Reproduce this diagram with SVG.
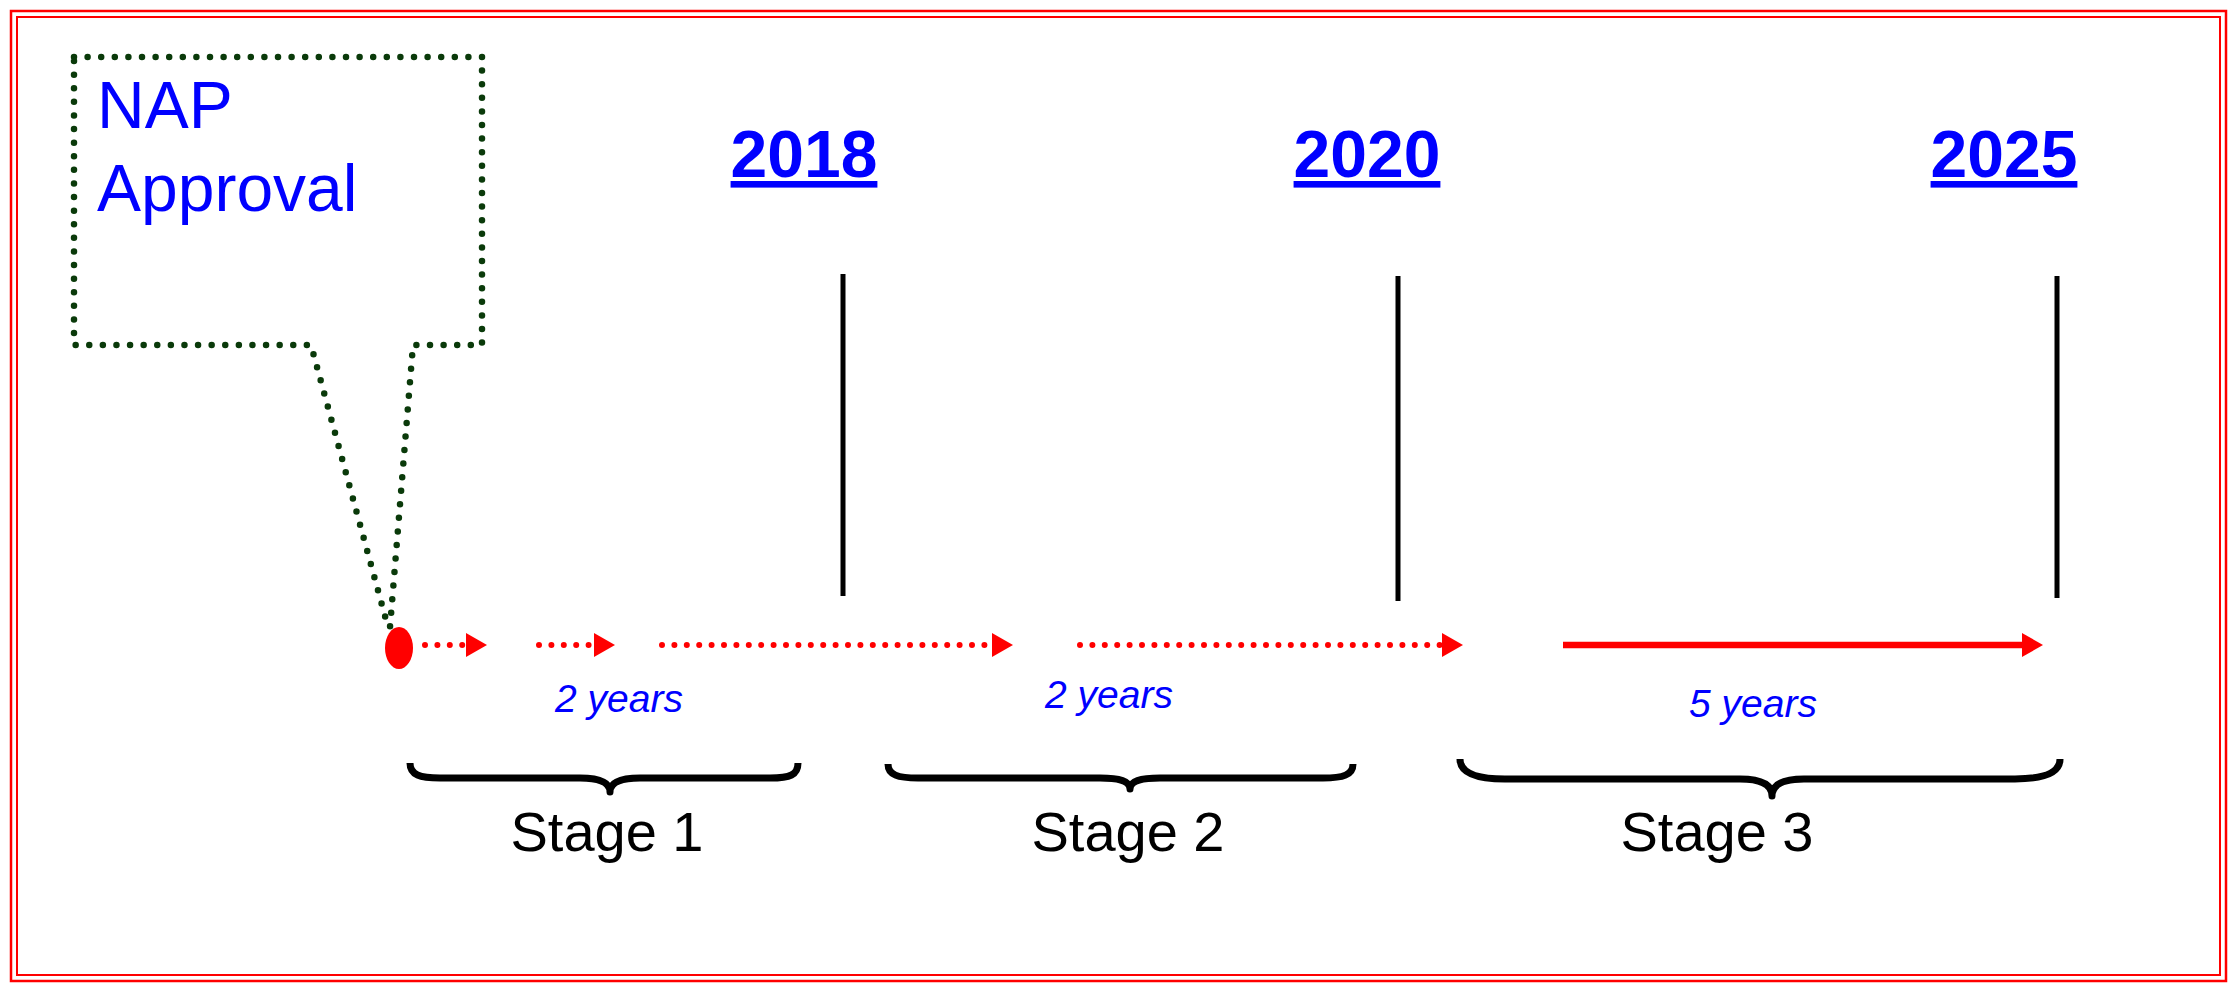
<svg xmlns="http://www.w3.org/2000/svg" width="2234" height="986" viewBox="0 0 2234 986">
<defs>
<style>
.callout{fill:none;stroke:#0a3a0a;stroke-width:6.5;stroke-linecap:round;stroke-dasharray:0 13.6}
.dot{fill:none;stroke:#ff0000;stroke-width:6;stroke-linecap:round;stroke-dasharray:0 12.4}
.solid{fill:none;stroke:#ff0000;stroke-width:6.5}
.tick{stroke:#000;stroke-width:5}
.brace{fill:none;stroke:#000;stroke-width:7;stroke-linejoin:round}
.year{font-family:"Liberation Sans",Arial,sans-serif;font-weight:bold;font-size:66px;fill:#0000ff;text-anchor:middle;text-decoration:underline}
.dur{font-family:"Liberation Sans",Arial,sans-serif;font-style:italic;font-size:39px;fill:#0000ff;text-anchor:middle}
.stage{font-family:"Liberation Sans",Arial,sans-serif;font-size:56px;fill:#000;text-anchor:middle}
.nap{font-family:"Liberation Sans",Arial,sans-serif;font-size:66px;fill:#0000ff}
</style>
<marker id="ah" viewBox="0 0 20 20" refX="0" refY="10" markerWidth="21" markerHeight="24" markerUnits="userSpaceOnUse" orient="auto" preserveAspectRatio="none">
<path d="M0,0 L20,10 L0,20 Z" fill="#ff0000"/>
</marker>
</defs>
<rect width="2234" height="986" fill="#fff"/>
<g id="frame">
<rect x="11" y="11" width="2215" height="970" fill="none" stroke="#ff0000" stroke-width="2.5"/>
<rect x="17" y="17" width="2203" height="958" fill="none" stroke="#ff0000" stroke-width="2"/>
</g>
<g id="nap-callout">
<path class="callout" d="M74,57 L482,57 L482,345 L413,345 L390,627 L388,627 L311,345 L74,345 Z"/>
<text class="nap" x="97" y="128">NAP</text>
<text class="nap" x="97" y="211">Approval</text>
</g>
<g id="start">
<ellipse cx="399" cy="648" rx="14" ry="21" fill="#ff0000"/>
</g>
<g id="years">
<text class="year" x="804" y="177">2018</text>
<text class="year" x="1367" y="177">2020</text>
<text class="year" x="2004" y="177">2025</text>
</g>
<g id="ticks">
<line class="tick" x1="843" y1="274" x2="843" y2="596"/>
<line class="tick" x1="1398" y1="276" x2="1398" y2="601"/>
<line class="tick" x1="2057" y1="276" x2="2057" y2="598"/>
</g>
<g id="connectors">
<line class="dot" x1="425" y1="645" x2="466" y2="645" marker-end="url(#ah)"/>
<line class="dot" x1="539" y1="645" x2="594" y2="645" marker-end="url(#ah)"/>
<line class="dot" x1="662" y1="645" x2="992" y2="645" marker-end="url(#ah)"/>
<line class="dot" x1="1080" y1="645" x2="1442" y2="645" marker-end="url(#ah)"/>
<line class="solid" x1="1563" y1="645" x2="2022" y2="645" marker-end="url(#ah)"/>
</g>
<g id="durations">
<text class="dur" x="619" y="712">2 years</text>
<text class="dur" x="1109" y="708">2 years</text>
<text class="dur" x="1753" y="717">5 years</text>
</g>
<g id="stage1">
<path class="brace" d="M410,763 C410,775 420,778 440,778 L580,778 C600,778 610,782 610,792 C610,782 620,778 640,778 L770,778 C790,778 798,775 798,763"/>
<text class="stage" x="607" y="851">Stage 1</text>
</g>
<g id="stage2">
<path class="brace" d="M888,764 C888,775 898,778 918,778 L1100,778 C1120,778 1130,781 1130,789 C1130,781 1140,778 1160,778 L1323,778 C1343,778 1353,775 1353,764"/>
<text class="stage" x="1128" y="851">Stage 2</text>
</g>
<g id="stage3">
<path class="brace" d="M1460,759 C1460,772 1475,779 1505,779 L1740,779 C1762,779 1772,785 1772,796 C1772,785 1782,779 1804,779 L2015,779 C2045,779 2060,772 2060,759"/>
<text class="stage" x="1717" y="851">Stage 3</text>
</g>
</svg>
